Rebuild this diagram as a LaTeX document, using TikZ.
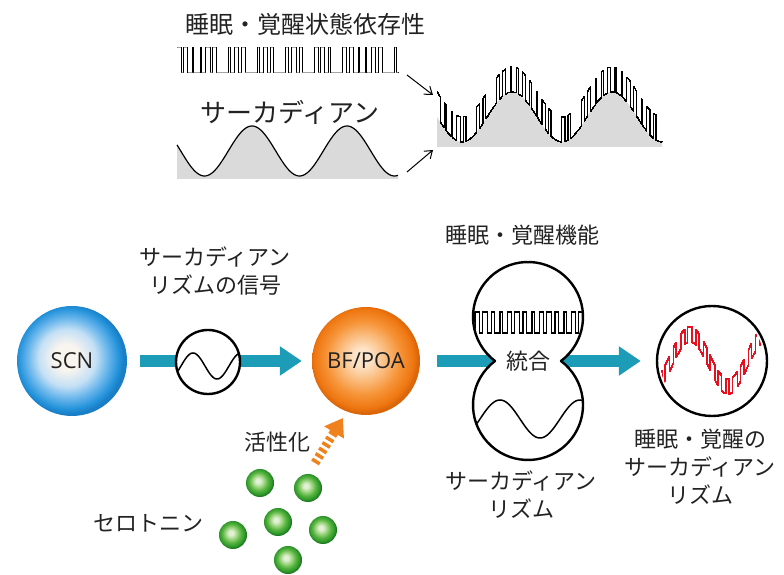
\documentclass[tikz,border=0pt]{standalone}
\usepackage{fontspec}
\newfontfamily\jp{Noto Sans CJK JP}
\newfontfamily\lat{Open Sans}
\usetikzlibrary{arrows.meta}
\definecolor{tealA}{RGB}{28,156,182}
\definecolor{txt}{RGB}{34,34,34}
\definecolor{grayF}{RGB}{218,218,218}
\definecolor{scnHi}{RGB}{248,244,238}
\definecolor{scnLt}{RGB}{196,224,245}
\definecolor{scnMid}{RGB}{110,184,236}
\definecolor{scnEdge}{RGB}{34,146,218}
\definecolor{scnDk}{RGB}{26,126,198}
\definecolor{bfHi}{RGB}{253,228,200}
\definecolor{bfLt}{RGB}{250,186,122}
\definecolor{bfMid}{RGB}{246,148,56}
\definecolor{bfEdge}{RGB}{238,118,16}
\definecolor{bfDk}{RGB}{218,102,10}
\definecolor{gHi}{RGB}{226,240,214}
\definecolor{gLt}{RGB}{150,210,120}
\definecolor{gMid}{RGB}{84,178,62}
\definecolor{gEdge}{RGB}{44,150,40}
\definecolor{gDk}{RGB}{30,124,32}
\definecolor{orA}{RGB}{240,130,30}
\definecolor{redW}{RGB}{232,16,30}
\pgfdeclareradialshading{scnshade}{\pgfpoint{-3bp}{2bp}}{color(0bp)=(scnHi); color(6bp)=(scnHi); color(13bp)=(scnLt); color(18bp)=(scnMid); color(23bp)=(scnEdge); color(25bp)=(scnDk); color(50bp)=(scnDk)}
\pgfdeclareradialshading{bfshade}{\pgfpoint{-2bp}{2bp}}{color(0bp)=(bfHi); color(4bp)=(bfHi); color(11bp)=(bfLt); color(17bp)=(bfMid); color(23bp)=(bfEdge); color(25bp)=(bfDk); color(50bp)=(bfDk)}
\pgfdeclareradialshading{gshade}{\pgfpoint{-4bp}{4bp}}{color(0bp)=(gHi); color(4bp)=(gHi); color(11bp)=(gLt); color(17bp)=(gMid); color(23bp)=(gEdge); color(25bp)=(gDk); color(50bp)=(gDk)}
\begin{document}
\begin{tikzpicture}[x=1pt,y=1pt,
  declare function={
    pa(\t)=((sin(50*\t)+0.9*sin(13*\t+20))>0.3);
    pb(\t)=((sin(55*\t)+0.6*sin(17*\t+60))>0.45);
    pc(\t)=((sin(45*\t)+0.5*sin(11*\t))>0.1);
    pd(\t)=((sin(48*\t)+0.5*sin(15*\t))>0.0);
  },
  lbl/.style={font=\jp\fontsize{22}{28}\selectfont, align=center, inner sep=0pt, text=txt},
  toplbl/.style={font=\jp\fontsize{#1}{#1}\selectfont, inner sep=0pt, text=txt},
  ring/.style={circle, draw=black, line width=2.4pt, fill=white, inner sep=0pt},
  tarrow/.style={draw=tealA, line width=12pt, -{Triangle[length=22pt,width=28pt]}},
  thinarrow/.style={draw=black, line width=1pt, -{Straight Barb[length=7pt,width=10pt]}},
  sphere/.style={circle, minimum size=#1, inner sep=0pt, font=\lat\fontsize{22}{24}\selectfont, text=txt},
  gball/.style={circle, minimum size=28pt, inner sep=0pt, shade, shading=gshade},
]
\useasboundingbox (0,0) rectangle (784,575);

% ---------- top part ----------
\node[toplbl=24] (t1) at (305,551) {睡眠・覚醒状態依存性};
\node[toplbl=26] (t2) at (290,463) {サーカディアン};

\draw[line width=1pt, line join=miter]
  plot[const plot, domain=0:221, samples=900] ({177+\x},{502+25*pa(\x)});

\fill[grayF] (177,396) -- plot[domain=0:221, samples=120] ({177+\x},{424+25*cos((\x-75)/95*360)}) -- (398,396) -- cycle;
\draw[line width=1.2pt] plot[domain=0:221, samples=160] ({177+\x},{424+25*cos((\x-75)/95*360)});

\coordinate (a1s) at (407,500);
\coordinate (a1e) at (433,480);
\coordinate (a2s) at (407,403);
\coordinate (a2e) at (433,425);
\draw[thinarrow] (a1s) -- (a1e);
\draw[thinarrow] (a2s) -- (a2e);

\fill[grayF] (437,428) -- plot[domain=0:225, samples=120] ({437+\x},{458+25*cos((\x-75)/100*360)}) -- (662,428) -- cycle;
\draw[line width=1.2pt, line join=miter]
  plot[const plot, domain=0:225, samples=1000] ({437+\x},{458+25*cos((\x-75)/100*360)+25*pb(\x)});

% ---------- bottom part ----------
\node[sphere=110pt, shade, shading=scnshade] (scn) at (72,214) {SCN};
\node[sphere=108pt, shade, shading=bfshade] (bf) at (366,214) {BF/POA};

\draw[tarrow, shorten <=13pt, shorten >=10pt] (scn.east) -- (bf.west);

\node[ring, minimum size=64pt] (sig) at (208,213) {};
\begin{scope}
  \clip (sig) circle[radius=31];
  \draw[line width=1.5pt] plot[domain=0:64, samples=80] ({176+\x},{209+13*cos((\x-17)/48*360)});
\end{scope}
\node[lbl] (siglbl) at (215,304) {サーカディアン\\リズムの信号};

\node[ring, minimum size=110pt] (out) at (712,214) {};
\draw[tarrow, shorten <=17pt, shorten >=15pt] (bf.east) -- (out.west);

% figure-eight
\coordinate (up) at (528,258);
\coordinate (lo) at (528,170);
\fill[white] (561,214) arc[start angle=-53.13, end angle=233.13, radius=55]
  arc[start angle=126.87, end angle=413.13, radius=55] -- cycle;
\begin{scope}
  \clip (up) circle[radius=54];
  \draw[line width=1.4pt, line join=miter]
    plot[const plot, domain=0:107, samples=600] ({475+\x},{242+21*pc(\x)});
\end{scope}
\begin{scope}
  \clip (lo) circle[radius=54];
  \draw[line width=1.5pt] plot[domain=0:116, samples=120] ({470+\x},{156+19*cos((\x-30)/80*360)});
\end{scope}
\draw[line width=2.4pt, line join=round] (561,214) arc[start angle=-53.13, end angle=233.13, radius=55]
  arc[start angle=126.87, end angle=413.13, radius=55] -- cycle;
\node[lbl] (toug) at (528,214) {統合};
\node[lbl] (kino) at (522,340) {睡眠・覚醒機能};
\node[lbl] (circ) at (521,80) {サーカディアン\\リズム};

% red wave
\begin{scope}
  \clip (out) circle[radius=52];
  \draw[redW, line width=1.6pt, line join=miter]
    plot[const plot, domain=0:108, samples=700] ({658+\x},{207+26*cos((\x-32)/76*360)+15*pd(\x)});
\end{scope}
\node[lbl] (outlbl) at (700,108) {睡眠・覚醒の\\サーカディアン\\リズム};

% serotonin
\node[lbl] (kasse) at (277,133) {活性化};
\node[lbl] (sero) at (148,52) {セロトニン};
\node[gball] (g1) at (260,92) {};
\node[gball] (g2) at (308,87) {};
\node[gball] (g3) at (278,53) {};
\node[gball] (g4) at (233,40) {};
\node[gball] (g5) at (323,45) {};
\node[gball] (g6) at (288,15) {};

\coordinate (oa) at (315,112);
\coordinate (ob) at (332.4,139.9);
\coordinate (otip) at (343,157);
\draw[orA, line width=9pt, dash pattern=on 3.5pt off 3pt] (oa) -- (ob);
\draw[orA, line width=9pt, -{Triangle[length=17pt,width=22pt]}] (ob) -- (otip);
\end{tikzpicture}
\end{document}
